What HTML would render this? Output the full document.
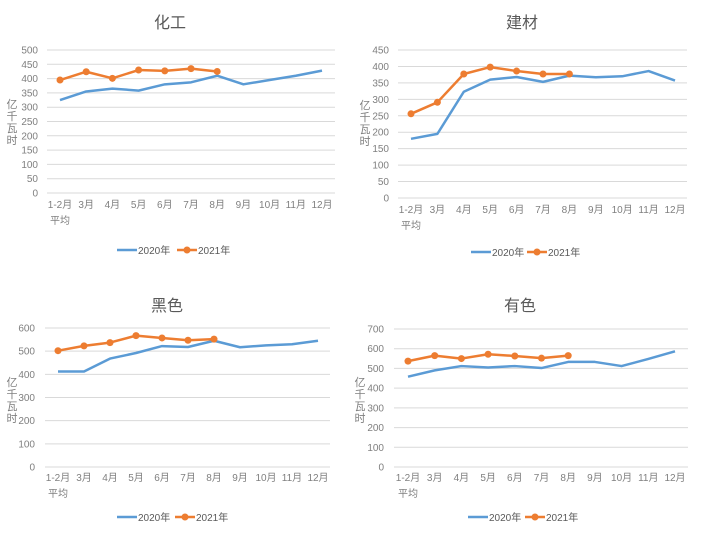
<!DOCTYPE html>
<html><head><meta charset="utf-8"><style>
html,body{margin:0;padding:0;background:#fff;}
svg text{font-family:"Liberation Sans","Noto Sans CJK SC",sans-serif;}
</style></head><body>
<svg id="s" width="701" height="529" xmlns="http://www.w3.org/2000/svg"></svg>
<script>
const charts=[
{title:"化工",tx:170,ty:22,gx0:47,gx1:335,yTop:50,yBot:193,max:500,step:50,cx0:60,cx1:322,ylx:38,lx:12,ly:100,xly:208,
 b:[325,355,365,358,380,387,410,380,395,410,428],o:[395,424,401,430,427,435,425],leg:[117,177],legy:250},
{title:"建材",tx:522,ty:22,gx0:398,gx1:687,yTop:50,yBot:198,max:450,step:50,cx0:411,cx1:675,ylx:389,lx:365,ly:101,xly:213,
 b:[180,195,323,360,368,353,372,367,370,386,357],o:[256,291,377,398,386,377,377],leg:[471,527],legy:252},
{title:"黑色",tx:167,ty:305,gx0:45,gx1:330,yTop:328,yBot:467,max:600,step:100,cx0:58,cx1:318,ylx:35,lx:12,ly:378,xly:481,
 b:[412,412,468,492,522,518,545,517,525,530,545],o:[502,523,537,567,557,547,552],leg:[117,175],legy:517},
{title:"有色",tx:520,ty:305,gx0:394,gx1:688,yTop:329,yBot:467,max:700,step:100,cx0:408,cx1:675,ylx:384,lx:360,ly:378,xly:481,
 b:[458,490,512,505,512,502,533,533,512,548,587],o:[537,565,550,572,563,552,565],leg:[468,525],legy:517}
];
const cats=["1-2月","3月","4月","5月","6月","7月","8月","9月","10月","11月","12月"];
let h="";
for(const c of charts){
 h+=`<text x="${c.tx}" y="${c.ty+6}" font-size="16" fill="#595959" text-anchor="middle">${c.title}</text>`;
 const Y=v=>c.yBot-(v/c.max)*(c.yBot-c.yTop);
 for(let v=0;v<=c.max;v+=c.step){
  const y=Y(v);
  h+=`<line x1="${c.gx0}" x2="${c.gx1}" y1="${y}" y2="${y}" stroke="#d9d9d9" stroke-width="1"/>`;
  h+=`<text x="${c.ylx}" y="${y+3.5}" font-size="10" fill="#7f7f7f" text-anchor="end">${v}</text>`;
 }
 const sp=(c.cx1-c.cx0)/10, X=i=>c.cx0+i*sp;
 cats.forEach((t,i)=>{h+=`<text x="${X(i)}" y="${c.xly}" font-size="10" fill="#7f7f7f" text-anchor="middle">${t}</text>`;});
 h+=`<text x="${X(0)}" y="${c.xly+16}" font-size="10" fill="#7f7f7f" text-anchor="middle">平均</text>`;
 "亿千瓦时".split("").forEach((ch,i)=>{h+=`<text x="${c.lx}" y="${c.ly+8+i*12}" font-size="11" fill="#7f7f7f" text-anchor="middle">${ch}</text>`;});
 h+=`<polyline fill="none" stroke="#5b9bd5" stroke-width="2.5" stroke-linejoin="round" points="${c.b.map((v,i)=>X(i)+","+Y(v)).join(" ")}"/>`;
 h+=`<polyline fill="none" stroke="#ed7d31" stroke-width="2.5" stroke-linejoin="round" points="${c.o.map((v,i)=>X(i)+","+Y(v)).join(" ")}"/>`;
 c.o.forEach((v,i)=>{h+=`<circle cx="${X(i)}" cy="${Y(v)}" r="3.5" fill="#ed7d31"/>`;});
 const [b,o]=c.leg, ly=c.legy;
 h+=`<line x1="${b}" x2="${b+20}" y1="${ly}" y2="${ly}" stroke="#5b9bd5" stroke-width="2.5"/>`;
 h+=`<text x="${b+21}" y="${ly+4}" font-size="10" fill="#595959">2020年</text>`;
 h+=`<line x1="${o}" x2="${o+20}" y1="${ly}" y2="${ly}" stroke="#ed7d31" stroke-width="2.5"/><circle cx="${o+10}" cy="${ly}" r="3.5" fill="#ed7d31"/>`;
 h+=`<text x="${o+21}" y="${ly+4}" font-size="10" fill="#595959">2021年</text>`;
}
document.getElementById("s").innerHTML=h;
</script>
</body></html>
